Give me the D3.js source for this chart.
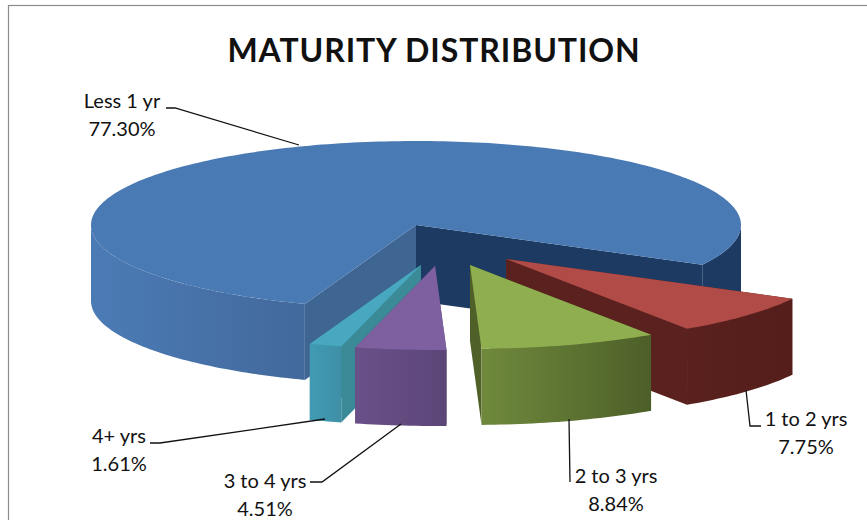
<!DOCTYPE html>
<html>
<head>
<meta charset="utf-8">
<script src="https://cdnjs.cloudflare.com/ajax/libs/d3/7.8.5/d3.min.js"></script>
<style>
    html, body { margin: 0; padding: 0; background: #fff; }
    svg { display: block; }
    text { font-family: Lato, "Open Sans", sans-serif; fill: #111; }
</style>
</head>
<body>
<div id="chart"></div>
<script>
// chart values
var categories = ["Less 1 yr", "1 to 2 yrs", "2 to 3 yrs", "3 to 4 yrs", "4+ yrs"];
var shares = [77.30, 7.75, 8.84, 4.51, 1.61];
var shareLabels = ["77.30%", "7.75%", "8.84%", "4.51%", "1.61%"];

var svgWidth = 867;
var svgHeight = 520;

var svg = d3.select("#chart")
    .append("svg")
    .attr("width", svgWidth)
    .attr("height", svgHeight);

var defs = svg.append("defs");

// chart frame, runs off the right and bottom of the picture
svg.append("rect")
    .attr("x", 8.5)
    .attr("y", 5.5)
    .attr("width", 900)
    .attr("height", 530)
    .attr("fill", "#fff")
    .attr("stroke", "#8c8c8c")
    .attr("stroke-width", 1.2);

svg.append("text")
    .attr("x", 434)
    .attr("y", 62)
    .attr("text-anchor", "middle")
    .attr("font-weight", "bold")
    .attr("font-size", 32)
    .attr("letter-spacing", 0.9)
    .text("MATURITY DISTRIBUTION");

// projection of the tilted pie, unit circle to screen
var x = d3.scaleLinear().domain([-1, 1]).range([91, 741]);
var y = d3.scaleLinear().domain([-1, 1]).range([141, 309]);
var depth = 76;

// pie starts at the cut on the lower left, clockwise from 12 o'clock
var startDeg = 200;
var pie = d3.pie()
    .sort(null)
    .startAngle(startDeg * Math.PI / 180)
    .endAngle((startDeg + 360) * Math.PI / 180);
var slices = pie(shares);

// how far each slice is pulled out, per slice
var pull = [[0, 0], [90, 34], [54, 40], [19, 41], [5, 40]];

// colours per slice
var topColor = ["#4a7ab3", "#b04b47", "#8fae50", "#7e5f9f", "#47a8bf"];
var sideFrom = ["#4b7bb5", "#5a211e", "#6f893c", "#6a5088", "#3f9bb3"];
var sideTo = ["#43699c", "#551e1b", "#4d5f29", "#5c4678", "#3f8fa6"];
var cutColor = ["#3f6593", "#5a211e", "#4f6128", "#5c4678", "#3a8b97"];
var backColor = "#1c3a62";

// painter order, back to front
var drawOrder = [0, 1, 4, 3, 2];

var line = d3.line().curve(d3.curveLinear);

function px(a) { return x(Math.sin(a)); }
function py(a) { return y(-Math.cos(a)); }

function sampleArc(a0, a1) {
    var n = Math.max(2, Math.ceil((a1 - a0) / 0.02));
    return d3.range(n + 1).map(function(i) {
        var a = a0 + (a1 - a0) * i / n;
        return [px(a), py(a)];
    });
}

// the parts of the rim that face the viewer
function frontRanges(a0, a1) {
    var ranges = [];
    for (var k = 0; k < 3; k++) {
        var from = Math.max(a0, Math.PI / 2 + k * 2 * Math.PI);
        var to = Math.min(a1, 3 * Math.PI / 2 + k * 2 * Math.PI);
        if (to > from) ranges.push([from, to]);
    }
    return ranges;
}

drawOrder.forEach(function(i) {
    var d = slices[i];
    var g = svg.append("g")
        .attr("transform", `translate(${pull[i][0]}, ${pull[i][1]})`);

    var apex = [x(0), y(0)];
    var start = [px(d.startAngle), py(d.startAngle)];
    var end = [px(d.endAngle), py(d.endAngle)];
    var down = function(p) { return [p[0], p[1] + depth]; };

    // cut faces behind the top surface
    g.append("path")
        .attr("d", line([apex, start, down(start), down(apex)]) + "Z")
        .attr("fill", cutColor[i]);
    g.append("path")
        .attr("d", line([apex, end, down(end), down(apex)]) + "Z")
        .attr("fill", i === 0 ? backColor : cutColor[i]);

    // outer rim, gradient runs left to right in screen space
    var lo = i === 0 ? x(-1) : Math.min(start[0], end[0]);
    var hi = i === 0 ? start[0] : Math.max(start[0], end[0]);
    var grad = defs.append("linearGradient")
        .attr("id", "side" + i)
        .attr("gradientUnits", "userSpaceOnUse")
        .attr("x1", lo)
        .attr("x2", hi)
        .attr("y1", 0)
        .attr("y2", 0);
    grad.append("stop").attr("offset", 0).attr("stop-color", sideFrom[i]);
    grad.append("stop").attr("offset", 1).attr("stop-color", sideTo[i]);

    frontRanges(d.startAngle, d.endAngle).forEach(function(r) {
        var arc = sampleArc(r[0], r[1]);
        var ring = arc.concat(arc.slice().reverse().map(down));
        // the piece right of centre on the large slice is in shade
        var rightPiece = i === 0 && Math.sin((r[0] + r[1]) / 2) > 0;
        g.append("path")
            .attr("d", line(ring) + "Z")
            .attr("fill", rightPiece ? backColor : `url(#side${i})`);
    });

    // top surface
    var top = [apex].concat(sampleArc(d.startAngle, d.endAngle));
    g.append("path")
        .attr("d", line(top) + "Z")
        .attr("fill", topColor[i]);
});

// data labels with their leader lines
var labelSpots = [
    { x: 122, y: 108 },
    { x: 806, y: 426 },
    { x: 616, y: 483 },
    { x: 265, y: 488 },
    { x: 119, y: 443 }
];
var leaders = [
    [[166, 108], [175, 108], [299, 145]],
    [[746, 390], [750, 426], [761, 426]],
    [[569, 419], [570, 482]],
    [[310, 482], [322, 482], [401, 424]],
    [[150, 443], [160, 443], [325, 419]]
];

categories.forEach(function(name, i) {
    svg.append("path")
        .attr("d", line(leaders[i]))
        .attr("fill", "none")
        .attr("stroke", "#111")
        .attr("stroke-width", 1.3);

    var label = svg.append("text")
        .attr("x", labelSpots[i].x)
        .attr("y", labelSpots[i].y)
        .attr("text-anchor", "middle")
        .attr("font-size", 20);
    label.append("tspan").text(name);
    label.append("tspan")
        .attr("x", labelSpots[i].x)
        .attr("dy", 28)
        .text(shareLabels[i]);
});
</script>
</body>
</html>
